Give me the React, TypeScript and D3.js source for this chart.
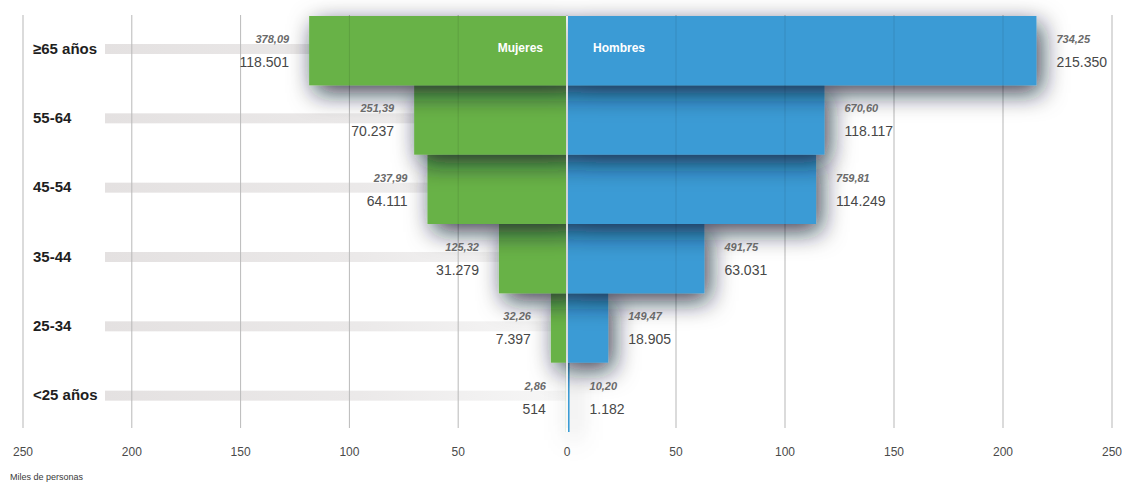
import React from "react";
import * as d3 from "d3";

const ages = ["≥65 años", "55-64", "45-54", "35-44", "25-34", "<25 años"];
const mujeres = [118501, 70237, 64111, 31279, 7397, 514];
const hombres = [215350, 118117, 114249, 63031, 18905, 1182];
const mujeresIdx = ["378,09", "251,39", "237,99", "125,32", "32,26", "2,86"];
const hombresIdx = ["734,25", "670,60", "759,81", "491,75", "149,47", "10,20"];
const tickValues = [0, 50, 100, 150, 200, 250];
const axisTitle = "Miles de personas";
const seriesNames = ["Mujeres", "Hombres"];

const W = 1122;
const H = 483;
const CX = 567;
const GREEN = "#67b247";
const BLUE = "#3b9bd5";
const FONT = "'Liberation Sans', Arial, sans-serif";

const es = d3.formatLocale({ decimal: ",", thousands: ".", grouping: [3], currency: ["", "€"] });
const fmt = es.format(",d");

export default function App() {
  const xl = d3.scaleLinear().domain([0, 250]).range([CX, 23]);
  const xr = d3.scaleLinear().domain([0, 250]).range([CX, 1112]);
  const y = d3.scaleBand<string>().domain(ages).range([16, 432]).padding(0);
  const bh = y.bandwidth();
  const order = ages.map((_, i) => i).reverse();

  return (
    <svg width={W} height={H} style={{ position: "absolute", left: 0, top: 0, background: "#fff" }} fontFamily={FONT}>
      <defs>
        <filter id="sh" filterUnits="userSpaceOnUse" x={0} y={0} width={W} height={H}>
          <feDropShadow dx={5} dy={8} stdDeviation={12} floodColor="#10162c" floodOpacity={0.8} />
        </filter>
        <linearGradient id="band" gradientUnits="userSpaceOnUse" x1={105} x2={CX} y1={0} y2={0}>
          <stop offset="0" stopColor="#e4e1e1" />
          <stop offset="0.55" stopColor="#ebe9e9" />
          <stop offset="1" stopColor="#f7f7f7" />
        </linearGradient>
      </defs>

      {/* background bands */}
      {ages.map((a) => (
        <rect key={"b" + a} x={105} y={(y(a) as number) + 33 - 5} width={CX - 105} height={10} fill="url(#band)" />
      ))}

      {/* grid lines under (white area) */}
      {tickValues.map((t) => (
        <line key={"gl" + t} x1={xl(t)} x2={xl(t)} y1={15} y2={428} stroke="#cfcfcf" strokeWidth={1} />
      ))}
      {tickValues.filter((t) => t > 0).map((t) => (
        <line key={"gr" + t} x1={xr(t)} x2={xr(t)} y1={15} y2={428} stroke="#cfcfcf" strokeWidth={1} />
      ))}

      {/* bars, bottom to top so shadows fall on lower bars */}
      {order.map((i) => {
        const a = ages[i];
        const y0 = y(a) as number;
        return (
          <g key={"bar" + a} filter="url(#sh)">
            <rect x={xl(mujeres[i] / 1000)} y={y0} width={CX - 1 - xl(mujeres[i] / 1000)} height={bh} fill={GREEN} />
            <rect x={CX + 1} y={y0} width={xr(hombres[i] / 1000) - CX - 1} height={bh} fill={BLUE} />
          </g>
        );
      })}

      {/* grid lines over bars */}
      {tickValues.filter((t) => t > 0).map((t) => (
        <g key={"go" + t}>
          <line x1={xl(t)} x2={xl(t)} y1={15} y2={428} stroke="#000" strokeOpacity={0.1} />
          <line x1={xr(t)} x2={xr(t)} y1={15} y2={428} stroke="#000" strokeOpacity={0.1} />
        </g>
      ))}

      {/* center white line */}
      <line x1={CX} x2={CX} y1={16} y2={432} stroke="#fff" strokeWidth={1.5} />

      {/* series names */}
      <text x={543} y={(y(ages[0]) as number) + 36} textAnchor="end" fill="#fff" fontWeight="bold" fontSize={12}>
        {seriesNames[0]}
      </text>
      <text x={593} y={(y(ages[0]) as number) + 36} textAnchor="start" fill="#fff" fontWeight="bold" fontSize={12}>
        {seriesNames[1]}
      </text>

      {/* age labels */}
      {ages.map((a) => (
        <text key={"a" + a} x={33} y={(y(a) as number) + 37.5} fontSize={15} fontWeight="bold" fill="#1e1e1e">
          {a}
        </text>
      ))}

      {/* value labels */}
      {ages.map((a, i) => {
        const y0 = y(a) as number;
        const lx = xl(mujeres[i] / 1000) - 20;
        const rx = xr(hombres[i] / 1000) + 20;
        return (
          <g key={"v" + a}>
            <text x={lx} y={y0 + 27} textAnchor="end" fontSize={11} fontStyle="italic" fontWeight="bold" fill="#6a6a6a">
              {mujeresIdx[i]}
            </text>
            <text x={lx} y={y0 + 51} textAnchor="end" fontSize={14} fill="#474747">
              {fmt(mujeres[i])}
            </text>
            <text x={rx} y={y0 + 27} textAnchor="start" fontSize={11} fontStyle="italic" fontWeight="bold" fill="#6a6a6a">
              {hombresIdx[i]}
            </text>
            <text x={rx} y={y0 + 51} textAnchor="start" fontSize={14} fill="#474747">
              {fmt(hombres[i])}
            </text>
          </g>
        );
      })}

      {/* tick labels */}
      {tickValues.map((t) => (
        <text key={"tl" + t} x={xl(t)} y={456} textAnchor="middle" fontSize={12} fill="#4a4a4a">
          {t}
        </text>
      ))}
      {tickValues.filter((t) => t > 0).map((t) => (
        <text key={"tr" + t} x={xr(t)} y={456} textAnchor="middle" fontSize={12} fill="#4a4a4a">
          {t}
        </text>
      ))}

      <text x={10} y={480} fontSize={9} fill="#3a3a3a">
        {axisTitle}
      </text>
    </svg>
  );
}
